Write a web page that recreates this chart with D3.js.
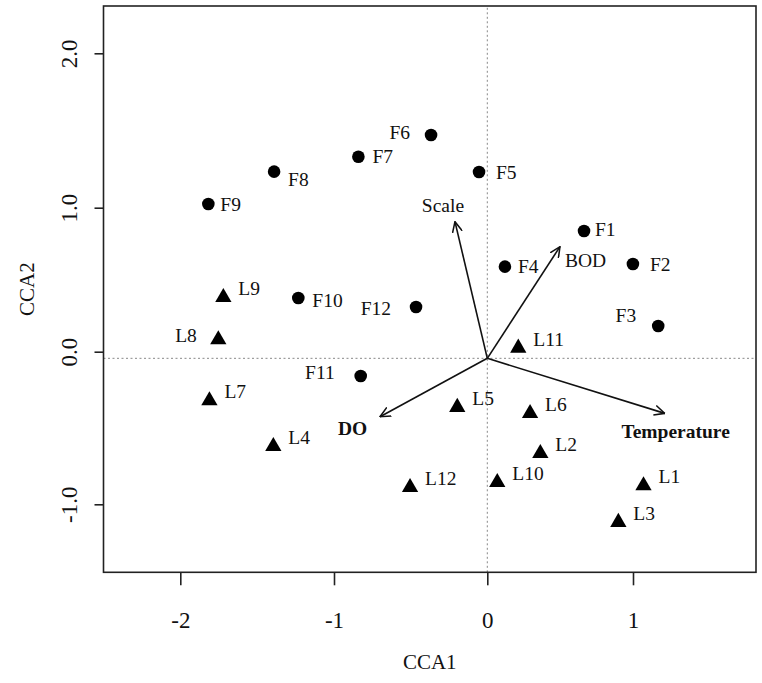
<!DOCTYPE html>
<html>
<head>
  <meta charset="utf-8">
  <script src="https://d3js.org/d3.v7.min.js"></script>
  <style>
    body {
      margin: 0;
      background: #fff;
    }
    text {
      font-family: "Liberation Serif", "Times New Roman", serif;
      fill: #111;
    }
    .ptlabel { font-size: 19.5px; }
    .tick text { font-size: 23px; }
    .axtitle { font-size: 21px; }
  </style>
</head>
<body>
  <div id="container"></div>

  <script>

    var w = 762,
        h = 683;
    var margin = {top: 6, right: 6, bottom: 110.7, left: 103.5};

    // site scores
    var fSites = ['F1','F2','F3','F4','F5','F6','F7','F8','F9','F10','F11','F12'];
    var fCCA1  = [0.631, 0.950, 1.115, 0.115, -0.054, -0.367, -0.841, -1.391, -1.820, -1.233, -0.826, -0.465];
    var fCCA2  = [0.835, 0.618, 0.212, 0.601, 1.222, 1.464, 1.322, 1.224, 1.012, 0.395, -0.116, 0.336];

    var lSites = ['L1','L2','L3','L4','L5','L6','L7','L8','L9','L10','L11','L12'];
    var lCCA1  = [1.019, 0.346, 0.855, -1.396, -0.196, 0.279, -1.813, -1.755, -1.722, 0.065, 0.202, -0.504];
    var lCCA2  = [-0.835, -0.623, -1.075, -0.577, -0.321, -0.361, -0.277, 0.123, 0.400, -0.813, 0.068, -0.846];

    // environmental arrows
    var envVars = ['BOD', 'Scale', 'Temperature', 'DO'];
    var envCCA1 = [0.474, -0.211, 1.158, -0.700];
    var envCCA2 = [0.732, 0.896, -0.361, -0.383];

    var xTicks = [-2, -1, 0, 1];
    var yTicks = [-1, 0, 1, 2];

    // label placement (px, relative to the point)
    var labelAt = {
      F1: ['start', 11, -2], F2: ['start', 17, 0], F3: ['end', -22, -11], F4: ['start', 13, 0],
      F5: ['start', 17, 0], F6: ['end', -21, -3], F7: ['start', 14, -1], F8: ['start', 14, 8],
      F9: ['start', 12, 0], F10: ['start', 14, 2], F11: ['end', -26, -3.5], F12: ['end', -25, 1],
      L8: ['end', -21.5, -4.6]
    };
    var triLabel = ['start', 15, -9];
    var envLabelAt = {
      BOD: ['start', 5, 14], Scale: ['middle', -12, -16.7],
      Temperature: ['start', -43.3, 17.7], DO: ['start', -42, 11.3]
    };
    var boldVars = ['Temperature', 'DO'];

    var svg = d3.select('div#container').append('svg')
        .attr('width', w)
        .attr('height', h);

    var x = d3.scaleLinear().domain([-2.504, 1.753]).range([margin.left, w - margin.right]);
    var y = d3.scaleLinear().domain([-1.403, 2.310]).range([h - margin.bottom, margin.top]);

    // tick marks in the figure are not quite evenly spaced
    var xAxisScale = d3.scaleLinear().domain(xTicks).range([180.3, 334, 487.3, 633]);
    var yAxisScale = d3.scaleLinear().domain(yTicks).range([504.3, 351.7, 207.7, 53.3]);

    svg.append('defs').append('marker')
        .attr('id', 'head')
        .attr('viewBox', '0 0 10 10')
        .attr('refX', 9.5)
        .attr('refY', 5)
        .attr('markerUnits', 'userSpaceOnUse')
        .attr('markerWidth', 11)
        .attr('markerHeight', 11)
        .attr('orient', 'auto')
      .append('path')
        .attr('d', 'M0,0.5 L9.5,5 L0,9.5')
        .attr('fill', 'none')
        .attr('stroke', '#111')
        .attr('stroke-width', 1.4);

    // zero lines
    svg.append('line')
        .attr('x1', x.range()[0]).attr('x2', x.range()[1])
        .attr('y1', y(0)).attr('y2', y(0))
        .attr('stroke', '#888').attr('stroke-width', 1).attr('stroke-dasharray', '2,2.5');
    svg.append('line')
        .attr('x1', x(0)).attr('x2', x(0))
        .attr('y1', y.range()[0]).attr('y2', y.range()[1])
        .attr('stroke', '#888').attr('stroke-width', 1).attr('stroke-dasharray', '2,2.5');

    // axes
    var gx = svg.append('g')
        .attr('transform', 'translate(0,' + (h - margin.bottom) + ')')
        .call(d3.axisBottom(xAxisScale).tickValues(xTicks).tickSize(13).tickPadding(26)
          .tickFormat(function(d) { return String(d); }));
    gx.select('.domain').remove();

    var gy = svg.append('g')
        .attr('transform', 'translate(' + margin.left + ',0)')
        .call(d3.axisLeft(yAxisScale).tickValues(yTicks).tickSize(9)
          .tickFormat(function(d) { return d.toFixed(1); }));
    gy.select('.domain').remove();
    gy.selectAll('.tick text')
        .attr('x', 0)
        .attr('y', -26.5)
        .attr('dy', 0)
        .attr('text-anchor', 'middle')
        .attr('transform', 'rotate(-90)');

    svg.selectAll('.tick line').attr('stroke', '#222').attr('stroke-width', 1.6);
    svg.selectAll('.tick text').attr('fill', '#111');

    svg.append('rect')
        .attr('x', x.range()[0]).attr('y', y.range()[1])
        .attr('width', x.range()[1] - x.range()[0])
        .attr('height', y.range()[0] - y.range()[1])
        .attr('fill', 'none')
        .attr('stroke', '#222')
        .attr('stroke-width', 1.6);

    svg.append('text')
        .attr('class', 'axtitle')
        .attr('x', (x.range()[0] + x.range()[1]) / 2)
        .attr('y', 669)
        .attr('text-anchor', 'middle')
        .text('CCA1');

    svg.append('text')
        .attr('class', 'axtitle')
        .attr('transform', 'translate(34,' + ((y.range()[0] + y.range()[1]) / 2) + ') rotate(-90)')
        .attr('text-anchor', 'middle')
        .text('CCA2');

    // arrows
    var env = envVars.map(function(v, i) {
      return {name: v, cx: envCCA1[i], cy: envCCA2[i]};
    });

    svg.selectAll('line.arrow')
        .data(env)
      .enter().append('line')
        .attr('class', 'arrow')
        .attr('x1', x(0)).attr('y1', y(0))
        .attr('x2', function(d) { return x(d.cx); })
        .attr('y2', function(d) { return y(d.cy); })
        .attr('stroke', '#111')
        .attr('stroke-width', 1.6)
        .attr('marker-end', 'url(#head)');

    svg.selectAll('text.env')
        .data(env)
      .enter().append('text')
        .attr('class', 'env ptlabel')
        .attr('x', function(d) { return x(d.cx) + envLabelAt[d.name][1]; })
        .attr('y', function(d) { return y(d.cy) + envLabelAt[d.name][2]; })
        .attr('dy', '0.35em')
        .attr('text-anchor', function(d) { return envLabelAt[d.name][0]; })
        .style('font-weight', function(d) { return boldVars.indexOf(d.name) >= 0 ? 'bold' : 'normal'; })
        .text(function(d) { return d.name; });

    // sites
    var fData = fSites.map(function(s, i) { return {name: s, cx: fCCA1[i], cy: fCCA2[i]}; });
    var lData = lSites.map(function(s, i) { return {name: s, cx: lCCA1[i], cy: lCCA2[i]}; });

    svg.selectAll('circle.site')
        .data(fData)
      .enter().append('circle')
        .attr('class', 'site')
        .attr('cx', function(d) { return x(d.cx); })
        .attr('cy', function(d) { return y(d.cy); })
        .attr('r', 6.3)
        .attr('fill', '#000');

    svg.selectAll('path.site')
        .data(lData)
      .enter().append('path')
        .attr('class', 'site')
        .attr('d', d3.symbol().type(d3.symbolTriangle).size(115))
        .attr('transform', function(d) { return 'translate(' + x(d.cx) + ',' + y(d.cy) + ')'; })
        .attr('fill', '#000');

    svg.selectAll('text.site')
        .data(fData.concat(lData))
      .enter().append('text')
        .attr('class', 'site ptlabel')
        .each(function(d) {
          var p = labelAt[d.name] || triLabel;
          d3.select(this)
            .attr('x', x(d.cx) + p[1])
            .attr('y', y(d.cy) + p[2])
            .attr('dy', '0.35em')
            .attr('text-anchor', p[0]);
        })
        .text(function(d) { return d.name; });

  </script>
</body>
</html>
